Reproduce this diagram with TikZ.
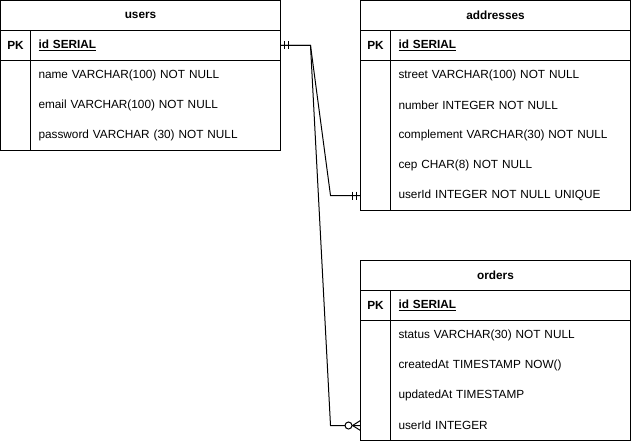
\documentclass[tikz,border=0pt]{standalone}
\usepackage{fontspec}
\setmainfont{Liberation Sans}
\usetikzlibrary{calc}

\newcommand{\erfont}{\fontsize{11.8}{14}\selectfont}

\tikzset{
    tabletitle/.style={draw, minimum height=30pt, inner sep=0pt, outer sep=0pt, font=\erfont\bfseries},
    keycell/.style={minimum width=30pt, minimum height=30pt, inner sep=0pt, outer sep=0pt, font=\erfont\bfseries},
    fieldcell/.style={minimum height=30pt, inner xsep=8pt, inner ysep=0pt, outer sep=0pt, align=left, font=\erfont},
    relation/.style={line width=1pt},
}

\begin{document}
\begin{tikzpicture}[x=1pt, y=-1pt, line width=1pt]
        \useasboundingbox (0,0) rectangle (631,441);

        % users
        \node [tabletitle, minimum width=280pt] (Ut) at (140.5, 15.5) {users};
        \node [keycell, draw] (Uk0) at (15.5, 45.5) {PK};
        \node [fieldcell, draw, text width=234pt] (Uf0) at (155.5, 45.5) {\underline{\textbf{id SERIAL}}};
        \node [keycell] (Uk1) at (15.5,  75.5) {};
        \node [keycell] (Uk2) at (15.5, 105.5) {};
        \node [keycell] (Uk3) at (15.5, 135.5) {};
        \node [fieldcell, text width=234pt] (Uf1) at (155.5,  75.5) {name VARCHAR(100) NOT NULL};
        \node [fieldcell, text width=234pt] (Uf2) at (155.5, 105.5) {email VARCHAR(100) NOT NULL};
        \node [fieldcell, text width=234pt] (Uf3) at (155.5, 135.5) {password VARCHAR (30) NOT NULL};
        \draw (Uk1.north west) rectangle (Uf3.south east);
        \draw (Uk1.north east) -- (Uk3.south east);

        % addresses
        \node [tabletitle, minimum width=270pt] (At) at (495.5, 15.5) {addresses};
        \node [keycell, draw] (Ak0) at (375.5, 45.5) {PK};
        \node [fieldcell, draw, text width=224pt] (Af0) at (510.5, 45.5) {\underline{\textbf{id SERIAL}}};
        \node [keycell] (Ak1) at (375.5,  75.5) {};
        \node [keycell] (Ak2) at (375.5, 105.5) {};
        \node [keycell] (Ak3) at (375.5, 135.5) {};
        \node [keycell] (Ak4) at (375.5, 165.5) {};
        \node [keycell] (Ak5) at (375.5, 195.5) {};
        \node [fieldcell, text width=224pt] (Af1) at (510.5,  75.5) {street VARCHAR(100) NOT NULL};
        \node [fieldcell, text width=224pt] (Af2) at (510.5, 105.5) {number INTEGER NOT NULL};
        \node [fieldcell, text width=224pt] (Af3) at (510.5, 135.5) {complement VARCHAR(30) NOT NULL};
        \node [fieldcell, text width=224pt] (Af4) at (510.5, 165.5) {cep CHAR(8) NOT NULL};
        \node [fieldcell, text width=224pt] (Af5) at (510.5, 195.5) {userId INTEGER NOT NULL UNIQUE};
        \draw (Ak1.north west) rectangle (Af5.south east);
        \draw (Ak1.north east) -- (Ak5.south east);

        % orders
        \node [tabletitle, minimum width=270pt] (Ot) at (495.5, 275.5) {orders};
        \node [keycell, draw] (Ok0) at (375.5, 305.5) {PK};
        \node [fieldcell, draw, text width=224pt] (Of0) at (510.5, 305.5) {\underline{\textbf{id SERIAL}}};
        \node [keycell] (Ok1) at (375.5, 335.5) {};
        \node [keycell] (Ok2) at (375.5, 365.5) {};
        \node [keycell] (Ok3) at (375.5, 395.5) {};
        \node [keycell] (Ok4) at (375.5, 425.5) {};
        \node [fieldcell, text width=224pt] (Of1) at (510.5, 335.5) {status VARCHAR(30) NOT NULL};
        \node [fieldcell, text width=224pt] (Of2) at (510.5, 365.5) {createdAt TIMESTAMP NOW()};
        \node [fieldcell, text width=224pt] (Of3) at (510.5, 395.5) {updatedAt TIMESTAMP};
        \node [fieldcell, text width=224pt] (Of4) at (510.5, 425.5) {userId INTEGER};
        \draw (Ok1.north west) rectangle (Of4.south east);
        \draw (Ok1.north east) -- (Ok4.south east);

        % users 1 -- 1 addresses
        \draw [relation] (Uf0.east) -- ++(30,0) -- ([xshift=-30pt]Ak5.west) -- (Ak5.west);
        \draw [relation] ([xshift=4pt]Uf0.east) ++(0,-4) -- ++(0,8);
        \draw [relation] ([xshift=8pt]Uf0.east) ++(0,-4) -- ++(0,8);
        \draw [relation] ([xshift=-4pt]Ak5.west) ++(0,-4) -- ++(0,8);
        \draw [relation] ([xshift=-8pt]Ak5.west) ++(0,-4) -- ++(0,8);

        % users 1 -- 0..n orders
        \draw [relation] (Uf0.east) -- ++(30,0) -- ([xshift=-30pt]Ok4.west) -- (Ok4.west);
        \draw [relation] ([xshift=-8pt]Ok4.west) -- ([yshift=5pt]Ok4.west);
        \draw [relation] ([xshift=-8pt]Ok4.west) -- ([yshift=-5pt]Ok4.west);
        \draw [relation, fill=white] ([xshift=-12pt]Ok4.west) circle (3.5pt);
\end{tikzpicture}
\end{document}
